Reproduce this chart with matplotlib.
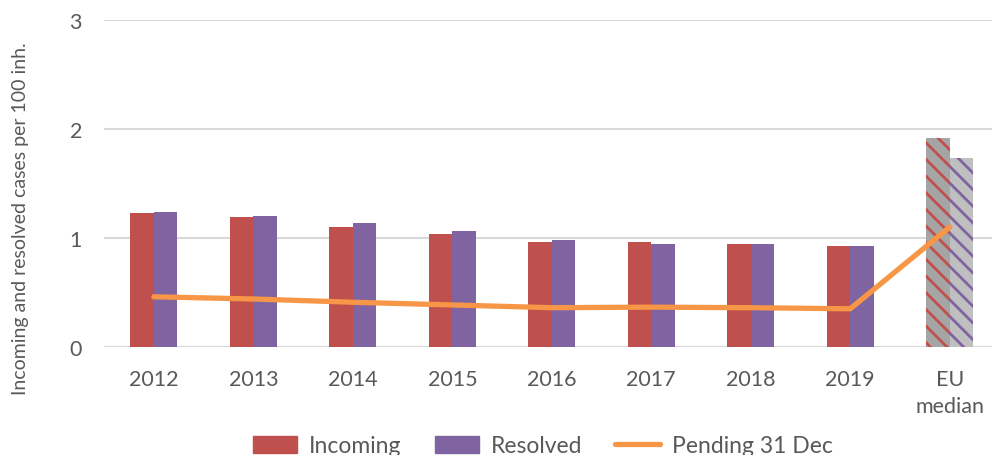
import numpy as np
import matplotlib.pyplot as plt
from matplotlib.patches import Patch
from matplotlib.lines import Line2D

plt.rcParams['font.family'] = ['Lato', 'DejaVu Sans']
plt.rcParams['hatch.linewidth'] = 2.0

# Data
categories = ['2012', '2013', '2014', '2015', '2016', '2017', '2018', '2019', 'EU\nmedian']
incoming = [1.23, 1.19, 1.10, 1.04, 0.96, 0.96, 0.94, 0.93, 1.92]
resolved = [1.24, 1.20, 1.14, 1.06, 0.98, 0.945, 0.945, 0.93, 1.73]
pending = [0.46, 0.44, 0.41, 0.385, 0.36, 0.365, 0.36, 0.35, 1.10]

red = '#C0504D'
purple = '#8064A2'
orange = '#F79646'
text_grey = '#595959'

fig = plt.figure(figsize=(9.92, 4.56), dpi=100)
ax = fig.add_axes([0.105, 0.237, 0.895, 0.717])

x = np.arange(len(categories))
w = 0.236
n_years = len(categories) - 1

# yearly bars
ax.bar(x[:n_years] - w / 2, incoming[:n_years], w, color=red, zorder=2)
ax.bar(x[:n_years] + w / 2, resolved[:n_years], w, color=purple, zorder=2)

# EU median bars: grey with coloured stripes
ax.bar(x[-1] - w / 2, incoming[-1], w, color='#A5A5A5', edgecolor=red,
       hatch='\\\\', linewidth=0, zorder=2)
ax.bar(x[-1] + w / 2, resolved[-1], w, color='#BFBFBF', edgecolor=purple,
       hatch='\\\\', linewidth=0, zorder=2)

ax.plot(x, pending, color=orange, lw=3.8, solid_capstyle='round', zorder=3)

ax.set_xlim(-0.5, 8.425)
ax.set_ylim(0, 3)
ax.set_yticks([0, 1, 2, 3])
ax.set_xticks(x)
ax.set_xticklabels(categories, linespacing=1.4)
ax.yaxis.grid(True, color='#D9D9D9', lw=1.5, zorder=0)
ax.set_axisbelow(True)
for s in ax.spines.values():
    s.set_visible(False)
ax.tick_params(axis='both', length=0, labelsize=15.5, colors=text_grey)
ax.tick_params(axis='x', pad=16)
ax.tick_params(axis='y', pad=16)
ax.set_ylabel('Incoming and resolved cases per 100 inh.', fontsize=14,
              color=text_grey)
ax.yaxis.set_label_coords(-0.085, 0.394)

handles = [Patch(color=red), Patch(color=purple),
           Line2D([0], [0], color=orange, lw=3.8, solid_capstyle='round')]
fig.legend(handles, ['Incoming', 'Resolved', 'Pending 31 Dec'], loc='center',
           bbox_to_anchor=(0.547, 0.02), ncol=3, frameon=False, fontsize=16.5,
           labelcolor=text_grey, handlelength=1.95, handleheight=0.8,
           handletextpad=0.5, columnspacing=1.45)

fig.savefig('out.png', dpi=100)
